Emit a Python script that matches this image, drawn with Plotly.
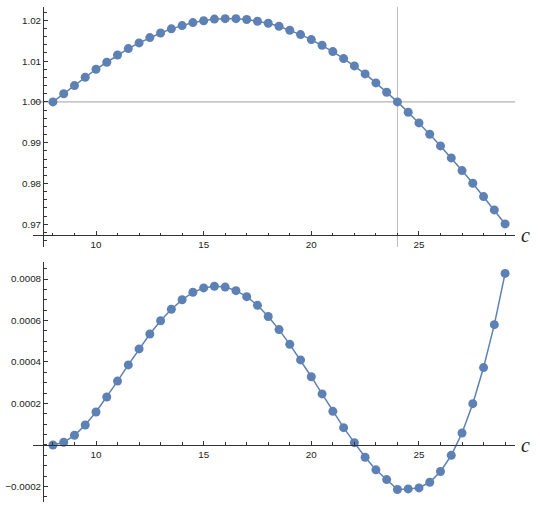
import plotly.graph_objects as go

c_vals = [8 + 0.5 * i for i in range(43)]

top_vals = [1.0000, 1.0020, 1.0040, 1.00605, 1.0080, 1.00972, 1.0115, 1.01307, 1.01446, 1.01577,
            1.0169, 1.0179, 1.0187, 1.01944, 1.0199, 1.0203, 1.0204, 1.0204, 1.0202, 1.01977,
            1.01928, 1.01855, 1.01757, 1.0165, 1.01528, 1.01389, 1.01234, 1.01062, 1.00882, 1.00686,
            1.00466, 1.00237, 1.0000, 0.99747, 0.99485, 0.99208, 0.98922, 0.98627, 0.98317, 0.98007,
            0.9768, 0.97353, 0.9701]

bottom_vals = [0.0, 0.0000128, 0.0000466, 0.0000964, 0.000159, 0.000231, 0.000308, 0.000386, 0.000463, 0.000535,
               0.000599, 0.000654, 0.000700, 0.000736, 0.000757, 0.000765, 0.000761, 0.000744, 0.000715, 0.000673,
               0.000619, 0.000556, 0.000485, 0.000410, 0.000329, 0.000246, 0.000162, 0.0000835, 0.0000112, -0.0000594,
               -0.000120, -0.000167, -0.000215, -0.000212, -0.000207, -0.000180, -0.000128, -0.000050, 0.0000578, 0.000199,
               0.000373, 0.000580, 0.000827]

x_ticks = [10, 15, 20, 25]
top_y_ticks = [0.97, 0.98, 0.99, 1.00, 1.01, 1.02]
bottom_y_ticks = [-0.0002, 0.0002, 0.0004, 0.0006, 0.0008]

COLOR = "#5E81B5"
AX = "#333333"
TICKFONT = dict(family="Liberation Sans, Arial, sans-serif", size=9.8, color="#222222")

x_range = [7.074, 29.46]
x_origin = 7.54
x_dom = [33 / 540, 515 / 540]

top_range = [0.96444, 1.02326]
top_origin = 0.96738
top_dom = [(512 - 247) / 512, (512 - 7) / 512]

bot_range = [-0.000275, 0.000882]
bot_origin = 0.0
bot_dom = [(512 - 502) / 512, (512 - 262) / 512]


def pos(v, rng, dom):
    return dom[0] + (v - rng[0]) / (rng[1] - rng[0]) * (dom[1] - dom[0])


fig = go.Figure()
fig.add_trace(go.Scatter(x=c_vals, y=top_vals, mode="lines+markers",
                         line=dict(color=COLOR, width=1.5),
                         marker=dict(color=COLOR, size=9),
                         xaxis="x", yaxis="y", showlegend=False))
fig.add_trace(go.Scatter(x=c_vals, y=bottom_vals, mode="lines+markers",
                         line=dict(color=COLOR, width=1.5),
                         marker=dict(color=COLOR, size=9),
                         xaxis="x2", yaxis="y2", showlegend=False))


def xaxis(rng, ypos):
    return dict(domain=x_dom, range=rng, anchor="free", position=ypos,
                showline=True, linecolor=AX, linewidth=1, showgrid=False, zeroline=False,
                ticks="inside", ticklen=4, tickcolor=AX, tickvals=x_ticks,
                tickfont=TICKFONT,
                minor=dict(dtick=1, tick0=0, ticks="inside", ticklen=2.5, tickcolor=AX, showgrid=False))


def yaxis(rng, dom, xpos, tickvals, fmt, minor_dt):
    return dict(domain=dom, range=rng, anchor="free", position=xpos,
                showline=True, linecolor=AX, linewidth=1, showgrid=False, zeroline=False,
                ticks="inside", ticklen=4, tickcolor=AX, tickvals=tickvals, tickformat=fmt,
                tickfont=TICKFONT,
                minor=dict(dtick=minor_dt, tick0=0, ticks="inside", ticklen=2.5, tickcolor=AX, showgrid=False))


y_axis_pos = pos(x_origin, x_range, x_dom)

fig.update_layout(
    width=540, height=512,
    margin=dict(l=0, r=0, t=0, b=0),
    paper_bgcolor="white", plot_bgcolor="white",
    xaxis=xaxis(x_range, pos(top_origin, top_range, top_dom)),
    yaxis=yaxis(top_range, top_dom, y_axis_pos, top_y_ticks, ".2f", 0.002),
    xaxis2=xaxis(x_range, pos(bot_origin, bot_range, bot_dom)),
    yaxis2=yaxis(bot_range, bot_dom, y_axis_pos, bottom_y_ticks, ".4f", 0.00005),
)

# reference lines in top panel
fig.add_shape(type="line", xref="x", yref="y", x0=x_range[0], x1=x_range[1], y0=1.0, y1=1.0,
              line=dict(color="#A0A0A0", width=1), layer="below")
fig.add_shape(type="line", xref="x", yref="y", x0=24, x1=24, y0=top_range[0], y1=top_range[1],
              line=dict(color="#BBBBBB", width=1), layer="below")

# axis labels "c"
for ypos in (pos(top_origin, top_range, top_dom), pos(bot_origin, bot_range, bot_dom)):
    fig.add_annotation(x=x_dom[1], y=ypos, xref="paper", yref="paper", text="<i>c</i>",
                       showarrow=False, xanchor="left", yanchor="middle", xshift=4,
                       font=dict(family="Liberation Serif, Times New Roman, serif", size=20, color="#222222"))

fig.write_html("out.html",
               config={"displayModeBar": False},
               post_script="document.body.style.margin='0';document.body.style.padding='0';"
                           "document.body.style.overflow='hidden';")
